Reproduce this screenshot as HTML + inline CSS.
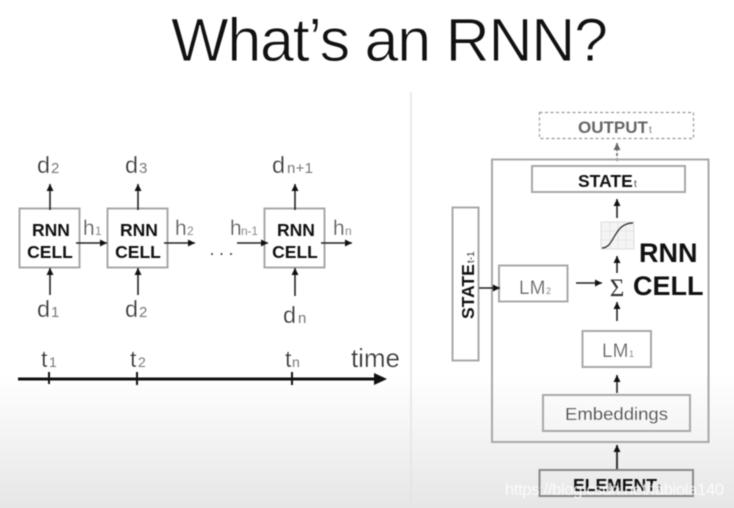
<!DOCTYPE html>
<html><head><meta charset="utf-8"><style>
html,body{margin:0;padding:0;background:#fff}
svg{display:block}
text{font-family:"Liberation Sans",sans-serif}
.n{fill:#333;font-size:23.5px;stroke:#fff;stroke-width:.35px}
.s{fill:#777;font-size:15px}
.h{fill:#555;font-size:21px;stroke:#fff;stroke-width:.3px}
.hs{fill:#888;font-size:12px}
.c{fill:#111;font-size:17.5px;font-weight:bold;text-anchor:middle}
.b{fill:none;stroke:#a8a8a8;stroke-width:2}
.l{stroke:#222;stroke-width:1.6;fill:none}
.art{filter:blur(.45px)}
</style></head><body>
<svg width="734" height="508" viewBox="0 0 734 508" xmlns="http://www.w3.org/2000/svg">
<defs>
<linearGradient id="g" x1="0" y1="0" x2="0" y2="1"><stop offset="0" stop-color="#fff"/><stop offset="1" stop-color="#e6e6e6"/></linearGradient>
<marker id="a" markerWidth="8" markerHeight="8" refX="7" refY="3.5" orient="auto" markerUnits="userSpaceOnUse"><path d="M0 0L7 3.5L0 7Z" fill="#111"/></marker>
<marker id="ag" markerWidth="8" markerHeight="8" refX="7" refY="3.5" orient="auto" markerUnits="userSpaceOnUse"><path d="M0 0L7 3.5L0 7Z" fill="#666"/></marker>
</defs>
<rect width="734" height="508" fill="#fff"/>
<rect y="375" width="734" height="133" fill="url(#g)"/>
<g class="art">
<line x1="411" y1="92" x2="411" y2="508" stroke="#e4e4e4" stroke-width="1.5"/>
<text x="171" y="61" font-size="61" fill="#111" stroke="#fff" stroke-width=".9" textLength="437" lengthAdjust="spacing">What’s an RNN?</text>

<!-- left cells -->
<rect class="b" x="19.5" y="208.5" width="60" height="59"/>
<rect class="b" x="107.5" y="208.5" width="60" height="59"/>
<rect class="b" x="264.5" y="208.5" width="60" height="59"/>
<text class="c" x="51" y="236">RNN</text><text class="c" x="50" y="258">CELL</text>
<text class="c" x="139" y="236">RNN</text><text class="c" x="138" y="258">CELL</text>
<text class="c" x="296" y="236">RNN</text><text class="c" x="295" y="258">CELL</text>

<g class="l">
<line x1="50" y1="210" x2="50" y2="184" marker-end="url(#a)"/>
<line x1="138" y1="210" x2="138" y2="184" marker-end="url(#a)"/>
<line x1="295" y1="210" x2="295" y2="184" marker-end="url(#a)"/>
<line x1="50" y1="295" x2="50" y2="268" marker-end="url(#a)"/>
<line x1="138" y1="295" x2="138" y2="268" marker-end="url(#a)"/>
<line x1="295" y1="296" x2="295" y2="268" marker-end="url(#a)"/>
<line x1="76" y1="243" x2="107" y2="243" marker-end="url(#a)"/>
<line x1="164" y1="243" x2="195" y2="243" marker-end="url(#a)"/>
<line x1="237" y1="243" x2="268" y2="243" marker-end="url(#a)"/>
<line x1="321" y1="243" x2="352" y2="243" marker-end="url(#a)"/>
</g>

<text class="n" x="37" y="173">d</text><text class="s" x="51" y="173">2</text>
<text class="n" x="125" y="173">d</text><text class="s" x="139" y="173">3</text>
<text class="n" x="272" y="173">d</text><text class="s" x="287" y="173" textLength="26">n+1</text>
<text class="n" x="37" y="317">d</text><text class="s" x="51" y="317">1</text>
<text class="n" x="125" y="317">d</text><text class="s" x="139" y="317">2</text>
<text class="n" x="283" y="323">d</text><text class="s" x="298" y="323">n</text>

<text class="h" x="83" y="235">h</text><text class="hs" x="95" y="235">1</text>
<text class="h" x="175" y="235">h</text><text class="hs" x="187" y="235">2</text>
<text class="h" x="230" y="235">h</text><text class="hs" x="241" y="235" textLength="17">n-1</text>
<text class="h" x="333" y="235">h</text><text class="hs" x="345" y="235">n</text>
<circle cx="212" cy="254" r="1" fill="#333"/><circle cx="221.500" cy="254" r="1" fill="#333"/><circle cx="231" cy="254" r="1" fill="#333"/>

<!-- timeline -->
<text class="n" x="41" y="367">t</text><text class="s" x="49" y="367" style="font-size:14px">1</text>
<text class="n" x="130" y="367">t</text><text class="s" x="138" y="367" style="font-size:14px">2</text>
<text class="n" x="285" y="367">t</text><text class="s" x="292" y="367" style="font-size:14px">n</text>
<text class="n" x="351" y="367" style="font-size:26px" textLength="49">time</text>
<line x1="18" y1="379" x2="378" y2="379" stroke="#111" stroke-width="3"/>
<path d="M374 373L387 379L374 385Z" fill="#111"/>
<line x1="49" y1="372" x2="49" y2="384" stroke="#111" stroke-width="2"/>
<line x1="137" y1="372" x2="137" y2="385" stroke="#111" stroke-width="2"/>
<line x1="292" y1="372" x2="292" y2="385" stroke="#111" stroke-width="2"/>

<!-- right -->
<rect x="539.5" y="112.5" width="154" height="26" fill="none" stroke="#999" stroke-width="1.2" stroke-dasharray="3 2.5"/>
<text x="578" y="133" font-size="17" font-weight="bold" fill="#666">OUTPUT</text><text x="649" y="133" font-size="10" fill="#777">t</text>
<line x1="617" y1="161" x2="617" y2="143" stroke="#666" stroke-width="1.6" stroke-dasharray="3 2" marker-end="url(#ag)"/>
<rect class="b" x="492" y="159.500" width="216.500" height="282.500"/>
<rect class="b" x="532" y="166" width="153" height="26"/>
<text x="578" y="187" font-size="17.500" font-weight="bold" fill="#111">STATE</text><text x="634" y="187" font-size="10" fill="#444">t</text>
<line x1="617" y1="218" x2="617" y2="199" class="l" marker-end="url(#a)"/>
<rect x="601" y="222" width="33" height="27" fill="#f4f4f4" stroke="#ddd" stroke-width="1"/>
<path d="M610 222V249M618 222V249M626 222V249M601 231H634M601 240H634" stroke="#e2e2e2" stroke-width="0.7" fill="none"/>
<path d="M602 248C615 248 613 223 633 223" stroke="#222" stroke-width="1.2" fill="none"/>
<line x1="617" y1="273" x2="617" y2="256" class="l" marker-end="url(#a)"/>
<text x="639" y="262" font-size="27" font-weight="bold" fill="#111">RNN</text>
<text x="633" y="295" font-size="27" font-weight="bold" fill="#111">CELL</text>
<text x="617" y="296" font-size="25" fill="#333" text-anchor="middle" style="font-family:'Liberation Serif',serif">Σ</text>
<rect class="b" x="499" y="265.500" width="68.500" height="36"/>
<text x="519" y="294" font-size="19" fill="#555" stroke="#fff" stroke-width=".3">LM</text><text x="546" y="294" font-size="9" fill="#888">2</text>
<line x1="576" y1="283" x2="602" y2="283" class="l" marker-end="url(#a)"/>
<rect class="b" x="452.500" y="207.500" width="26" height="153"/>
<text transform="translate(474,319) rotate(-90)" font-size="17.500" font-weight="bold" fill="#111">STATE</text>
<text transform="translate(474,263) rotate(-90)" font-size="10" fill="#333">t-1</text>
<line x1="479" y1="288" x2="500" y2="288" class="l" marker-end="url(#a)"/>
<line x1="617" y1="321" x2="617" y2="302" class="l" marker-end="url(#a)"/>
<rect class="b" x="582.500" y="331" width="68.500" height="36"/>
<text x="602" y="357" font-size="19" fill="#555" stroke="#fff" stroke-width=".3">LM</text><text x="629" y="357" font-size="9" fill="#888">1</text>
<line x1="617" y1="393" x2="617" y2="375" class="l" marker-end="url(#a)"/>
<rect class="b" x="543" y="395" width="147" height="36"/>
<text x="565" y="420" font-size="17.500" fill="#444" stroke="#fff" stroke-width=".2" textLength="103" lengthAdjust="spacingAndGlyphs">Embeddings</text>
<line x1="617" y1="469" x2="617" y2="445" stroke="#333" stroke-width="2" marker-end="url(#a)"/>
<rect x="539.500" y="470" width="153.500" height="26" fill="none" stroke="#888" stroke-width="2"/>
<text x="573" y="491" font-size="17.500" font-weight="bold" fill="#111" textLength="84" lengthAdjust="spacingAndGlyphs">ELEMENT</text><text x="658" y="491" font-size="10" fill="#333">t</text>
<text x="505" y="495" font-size="16.500" fill="#fff" fill-opacity=".8" textLength="219">https://blog.csdn.net/fabiola140</text>
</g>
</svg>
</body></html>
